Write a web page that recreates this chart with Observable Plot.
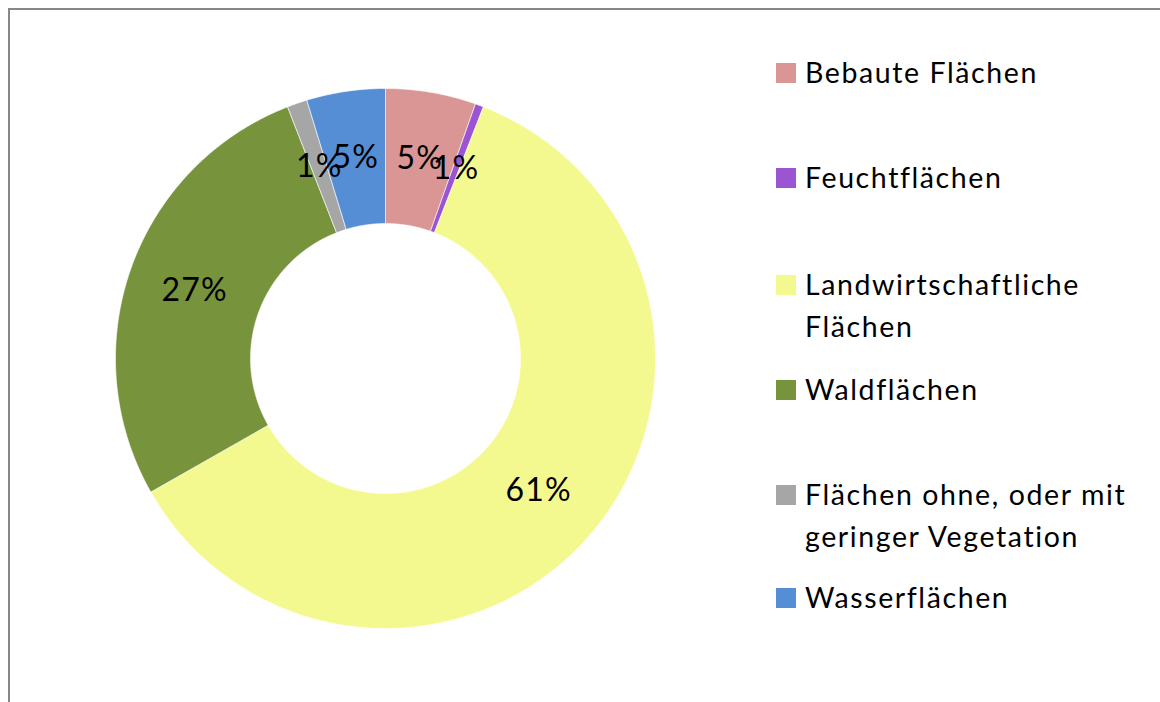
<!DOCTYPE html>
<html>
<head>
<meta charset="utf-8">
<script src="https://cdn.jsdelivr.net/npm/d3@7"></script>
<script src="https://cdn.jsdelivr.net/npm/@observablehq/plot@0.6"></script>
<style>
  html, body { margin: 0; padding: 0; background: #fff; }
  body { width: 1160px; height: 702px; overflow: hidden; position: relative; font-family: Lato, "Noto Sans", sans-serif; }
  #frame { position: absolute; left: 8px; top: 8px; width: 1300px; height: 900px; border: 2.5px solid #878787; box-sizing: border-box; }
  #chart { position: absolute; left: 0; top: 0; }
  #legend { position: absolute; left: 0; top: 0; }
  .item { position: absolute; left: 776px; display: flex; align-items: flex-start; font-size: 28.5px; line-height: 42px; letter-spacing: 1.6px; color: #000; white-space: nowrap; }
  .sw { width: 20px; height: 20px; margin-top: 12px; margin-right: 9px; flex: none; }
</style>
</head>
<body>
<div id="frame"></div>
<div id="chart"></div>
<div id="legend"></div>
<script>
const categories = ["Bebaute Flächen", "Feuchtflächen", "Landwirtschaftliche Flächen", "Waldflächen", "Flächen ohne, oder mit geringer Vegetation", "Wasserflächen"];
const legendLines = [["Bebaute Flächen"], ["Feuchtflächen"], ["Landwirtschaftliche", "Flächen"], ["Waldflächen"], ["Flächen ohne, oder mit", "geringer Vegetation"], ["Wasserflächen"]];
const shares = [5.4, 0.5, 60.8, 27.3, 1.2, 4.7];
const pctLabels = ["5%", "1%", "61%", "27%", "1%", "5%"];
const colors = ["#D99694", "#9B55D3", "#F4F98F", "#77933C", "#A6A6A6", "#558ED5"];
const legendTops = [51, 156, 263, 368, 473, 576];

const data = categories.map((c, i) => ({cat: c, share: shares[i], label: pctLabels[i]}));
const arcs = d3.pie().sort(null).value(d => d.share)(data);
const inner = 0.5, outer = 1;

const polys = [];
const centers = [];
for (const a of arcs) {
  const n = Math.max(2, Math.ceil((a.endAngle - a.startAngle) / 0.005));
  const pts = [];
  for (let k = 0; k <= n; k++) {
    const t = a.startAngle + (a.endAngle - a.startAngle) * k / n;
    pts.push({x: outer * Math.sin(t), y: outer * Math.cos(t)});
  }
  for (let k = n; k >= 0; k--) {
    const t = a.startAngle + (a.endAngle - a.startAngle) * k / n;
    pts.push({x: inner * Math.sin(t), y: inner * Math.cos(t)});
  }
  pts.push(pts[0]);
  for (const p of pts) polys.push({...p, cat: a.data.cat});
  const m = (a.startAngle + a.endAngle) / 2, r = (inner + outer) / 2;
  centers.push({x: r * Math.sin(m), y: r * Math.cos(m), label: a.data.label});
}

const plot = Plot.plot({
  width: 1160,
  height: 702,
  margin: 0,
  style: {fontFamily: "Lato, 'Noto Sans', sans-serif", background: "transparent", letterSpacing: "1.2px"},
  x: {domain: [-1, 1], range: [115, 655], axis: null},
  y: {domain: [-1, 1], range: [628, 88], axis: null},
  color: {domain: categories, range: colors},
  marks: [
    Plot.line(polys, {x: "x", y: "y", z: "cat", fill: "cat", stroke: "white", strokeWidth: 0.6, curve: "linear"}),
    Plot.text(centers, {x: "x", y: "y", text: "label", fontSize: 32, fill: "black"})
  ]
});
document.getElementById("chart").appendChild(plot);

const legend = document.getElementById("legend");
categories.forEach((c, i) => {
  const it = document.createElement("div");
  it.className = "item";
  it.style.top = legendTops[i] + "px";
  const sw = document.createElement("div");
  sw.className = "sw";
  sw.style.background = colors[i];
  const tx = document.createElement("div");
  tx.innerHTML = legendLines[i].join("<br>");
  it.appendChild(sw);
  it.appendChild(tx);
  legend.appendChild(it);
});
</script>
</body>
</html>
